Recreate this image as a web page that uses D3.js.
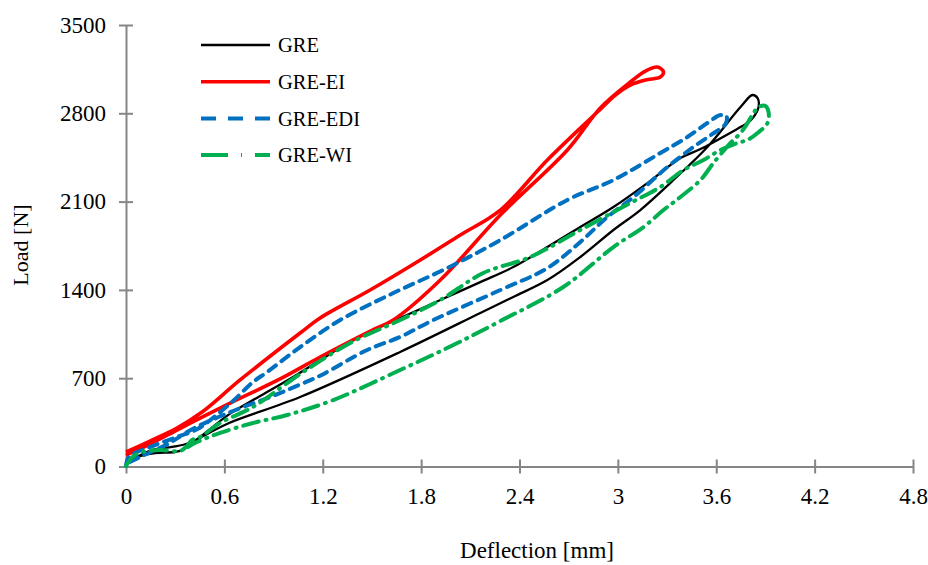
<!DOCTYPE html>
<html>
<head>
<meta charset="utf-8">
<script src="https://cdn.jsdelivr.net/npm/d3@7"></script>
<style>
  body { margin: 0; background: #fff; }
  text { font-family: "Liberation Serif", "Times New Roman", serif; fill: #000; }
</style>
</head>
<body>
<div id="chart"></div>
<script>

// ticks
var xTicks = [0, 0.6, 1.2, 1.8, 2.4, 3, 3.6, 4.2, 4.8]
var yTicks = [0, 700, 1400, 2100, 2800, 3500]

// GRE : loading branch up to the peak, then back down
var greX = [0, 0.159, 0.281, 0.385, 0.507, 0.629, 1.062, 1.672, 2.161, 2.362, 2.570, 2.771, 2.973, 3.137, 3.339, 3.546, 3.748, 3.821, 3.852, 3.858, 3.827, 3.791,
            3.748, 3.504, 3.382, 3.180, 2.973, 2.771, 2.570, 2.362, 2.161, 1.917, 1.672, 1.428, 1.184, 1.019, 0.818, 0.635, 0.452, 0.342, 0.299, 0.177, 0.085, 0]
var greY = [28, 131, 155, 186, 266, 345, 551, 908, 1217, 1344, 1478, 1661, 1875, 2033, 2271, 2533, 2850, 2945, 2921, 2850, 2770, 2723,
            2691, 2517, 2445, 2247, 2057, 1898, 1740, 1581, 1462, 1320, 1177, 1034, 844, 710, 559, 419, 234, 131, 115, 107, 83, 36]

// GRE-EI
var eiX = [0, 0.146, 0.311, 0.464, 0.635, 0.940, 1.184, 1.500, 1.630, 1.917, 2.283, 2.692, 2.893, 3.076, 3.168, 3.241, 3.278, 3.259,
           3.168, 3.076, 2.985, 2.875, 2.570, 2.283, 2.039, 1.795, 1.489, 1.184, 1.062, 0.696, 0.464, 0.311, 0.146, 0]
var eiY = [91, 178, 289, 392, 503, 694, 868, 1080, 1161, 1478, 1994, 2509, 2842, 3048, 3135, 3167, 3128, 3088,
           3064, 3024, 2945, 2810, 2430, 2033, 1835, 1637, 1399, 1177, 1058, 686, 432, 305, 202, 115]

// GRE-EDI
var ediX = [0, 0.018, 0.177, 0.324, 0.433, 0.531, 0.653, 0.775, 0.861, 1.062, 1.306, 1.630, 1.959, 2.283, 2.692, 2.973, 3.259, 3.424, 3.546, 3.626, 3.662, 3.656, 3.577,
            3.461, 3.302, 3.095, 2.936, 2.771, 2.570, 2.283, 1.874, 1.672, 1.471, 1.184, 1.062, 0.897, 0.653, 0.409, 0.250, 0.085, 0]
var ediY = [4, 75, 170, 240, 295, 385, 520, 670, 749, 947, 1161, 1375, 1573, 1795, 2113, 2271, 2485, 2612, 2723, 2786, 2778, 2715, 2636,
            2533, 2374, 2136, 1978, 1780, 1573, 1399, 1161, 1027, 924, 720, 650, 560, 440, 300, 175, 75, 20]

// GRE-WI
var wiX = [0, 0.024, 0.055, 0.098, 0.208, 0.330, 0.366, 0.403, 0.452, 0.574, 0.775, 0.983, 1.062, 1.367, 1.672, 1.917, 2.179, 2.466, 2.771, 3.076, 3.259, 3.400, 3.522, 3.626, 3.730, 3.791, 3.852, 3.913, 3.919, 3.900, 3.858, 3.827, 3.791, 3.748, 3.687,
           3.583, 3.504, 3.382, 3.278, 3.156, 2.973, 2.667, 2.283, 1.996, 1.672, 1.264, 0.983, 0.775, 0.574, 0.433, 0.378]
var wiY = [4, 52, 91, 115, 131, 123, 155, 210, 234, 345, 472, 662, 733, 979, 1161, 1320, 1534, 1661, 1875, 2089, 2216, 2350, 2430, 2509, 2565, 2589, 2644, 2723, 2810, 2858, 2850, 2802, 2723, 2644, 2565,
           2406, 2271, 2137, 2033, 1898, 1740, 1423, 1153, 963, 765, 527, 408, 345, 266, 194, 155]

var names = ["GRE", "GRE-EI", "GRE-EDI", "GRE-WI"]

var series = [
  {name: names[0], x: greX, y: greY, color: "#000000", width: 2.3, dash: null,        legDash: null},
  {name: names[1], x: eiX,  y: eiY,  color: "#FF0000", width: 3.6, dash: null,        legDash: null},
  {name: names[2], x: ediX, y: ediY, color: "#0070C0", width: 4,   dash: "9,7",       legDash: "15,12"},
  {name: names[3], x: wiX,  y: wiY,  color: "#00B050", width: 4,   dash: "16,7,1,7",  legDash: "27,13,1,13"}
]

var width = 928, height = 565
var margin = {top: 25, right: 15, bottom: 98, left: 126}

var svg = d3.select("#chart")
    .append("svg")
    .attr("width", width)
    .attr("height", height)

var x = d3.scaleLinear().domain([0, 4.8]).range([margin.left, width - margin.right])
var y = d3.scaleLinear().domain([0, 3500]).range([height - margin.bottom - 0.5, margin.top])

// axes
var xAxis = svg.append("g")
    .attr("transform", "translate(0," + y(0) + ")")
    .call(d3.axisBottom(x).tickValues(xTicks).tickSizeInner(7).tickSizeOuter(0).tickPadding(14)
      .tickFormat(function(d) { return String(+d.toFixed(1)) }))
xAxis.selectAll(".tick line").attr("y1", -7)

var yAxis = svg.append("g")
    .attr("transform", "translate(" + x(0) + ",0)")
    .call(d3.axisLeft(y).tickValues(yTicks).tickSizeInner(7).tickSizeOuter(0).tickPadding(13)
      .tickFormat(function(d) { return String(d) }))
yAxis.selectAll(".tick line").attr("x1", 7)

svg.selectAll(".domain, .tick line").attr("stroke", "#868686").attr("stroke-width", 2)
svg.selectAll(".tick text")
   .attr("font-family", "Liberation Serif, Times New Roman, serif")
   .attr("font-size", 23)
   .attr("fill", "#000")

// axis titles
svg.append("text")
   .attr("x", 537)
   .attr("y", 558)
   .attr("text-anchor", "middle")
   .attr("font-size", 23)
   .text("Deflection [mm]")

svg.append("text")
   .attr("transform", "translate(28,245) rotate(-90)")
   .attr("text-anchor", "middle")
   .attr("font-size", 22)
   .text("Load [N]")

// curves
var line = d3.line()
    .x(function(d) { return x(d[0]) })
    .y(function(d) { return y(d[1]) })
    .curve(d3.curveCatmullRom.alpha(0.5))

series.forEach(function(s) {
  var pts = s.x.map(function(v, i) { return [v, s.y[i]] })
  svg.append("path")
     .datum(pts)
     .attr("d", line)
     .attr("fill", "none")
     .attr("stroke", s.color)
     .attr("stroke-width", s.width)
     .attr("stroke-linecap", s.dash ? "round" : "butt")
     .attr("stroke-linejoin", "round")
     .attr("stroke-dasharray", s.dash)
})

// legend
var legend = svg.append("g").attr("transform", "translate(201,45)")
series.forEach(function(s, i) {
  var g = legend.append("g").attr("transform", "translate(0," + (i * 36.7) + ")")
  g.append("line")
   .attr("x1", 0).attr("x2", 69)
   .attr("stroke", s.color)
   .attr("stroke-width", s.width)
   .attr("stroke-dasharray", s.legDash)
  g.append("text")
   .attr("x", 77)
   .attr("dy", "0.35em")
   .attr("font-size", 20.5)
   .text(s.name)
})

</script>
</body>
</html>
